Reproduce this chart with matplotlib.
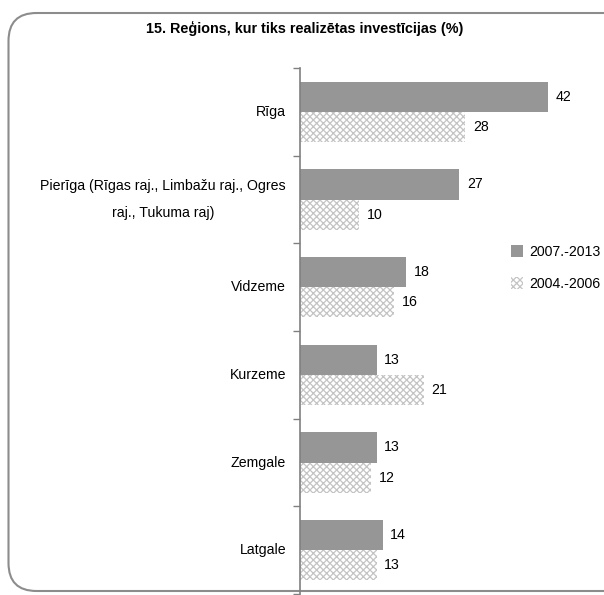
import matplotlib
matplotlib.use("Agg")
import matplotlib.pyplot as plt
from matplotlib.patches import FancyBboxPatch
from matplotlib.transforms import IdentityTransform
import numpy as np

categories = ["Rīga", "Pierīga (Rīgas raj., Limbažu raj., Ogres\nraj., Tukuma raj)",
              "Vidzeme", "Kurzeme", "Zemgale", "Latgale"]
s2007 = [42, 27, 18, 13, 13, 14]
s2004 = [28, 10, 16, 21, 12, 13]
series_names = ["2007.-2013", "2004.-2006"]
title = "15. Reģions, kur tiks realizētas investīcijas (%)"

FONT = ['Liberation Sans', 'DejaVu Sans']
plt.rcParams['font.family'] = FONT
plt.rcParams['hatch.color'] = '#bcbcbc'
plt.rcParams['hatch.linewidth'] = 0.9

W, H = 604, 595
fig = plt.figure(figsize=(W/100, H/100), dpi=100)

# rounded frame
frame = FancyBboxPatch((8.5, 4), 640, 578, boxstyle="round,pad=0,rounding_size=28",
                       transform=IdentityTransform(), facecolor='none',
                       edgecolor='#8c8c8c', linewidth=1.5, zorder=-1)
fig.patches.append(frame)

ax_left, ax_right = 300, 595
ax_top, ax_bot = 68, 594
ax = fig.add_axes([ax_left/W, 1-ax_bot/H, (ax_right-ax_left)/W, (ax_bot-ax_top)/H])
ax.patch.set_alpha(0)

FS = 10.2
n = len(categories)
y = np.arange(n)
h = 0.345
ax.barh(y - h/2, s2007, height=h, color='#969696', label=series_names[0], zorder=2)
ax.barh(y + h/2, s2004, height=h, color='white', hatch='xxxxx', edgecolor='#c4c4c4',
        linewidth=0, label=series_names[1], zorder=2)

for i in range(n):
    ax.text(s2007[i] + 1.3, y[i] - h/2, str(s2007[i]), va='center', ha='left', fontsize=FS)
    ax.text(s2004[i] + 1.3, y[i] + h/2, str(s2004[i]), va='center', ha='left', fontsize=FS)

ax.set_xlim(0, 50)
ax.set_ylim(n - 0.5, -0.5)
ax.set_yticks(y)
ax.set_yticklabels(categories, fontsize=FS, linespacing=2.15, multialignment='center')
for lab in ax.get_yticklabels():
    lab.set_va('center')
ax.tick_params(axis='y', which='major', length=0, pad=10)
ax.set_yticks(np.arange(-0.5, n, 1), minor=True)
ax.tick_params(axis='y', which='minor', length=5, width=1, color='#808080', direction='out')
ax.set_xticks([])
for s in ['top', 'right', 'bottom']:
    ax.spines[s].set_visible(False)
ax.spines['left'].set_color('#808080')
ax.spines['left'].set_linewidth(1.2)

fig.text(305/W, 1-29/H, title, ha='center', va='center', fontsize=10.4, fontweight='bold')

leg = fig.legend(loc='upper left', bbox_to_anchor=(505/W, 1-239/H), frameon=False,
                 fontsize=FS, handlelength=0.9, handleheight=0.9, handletextpad=0.4,
                 labelspacing=1.3, borderaxespad=0)

fig.savefig("out.png", dpi=100)
